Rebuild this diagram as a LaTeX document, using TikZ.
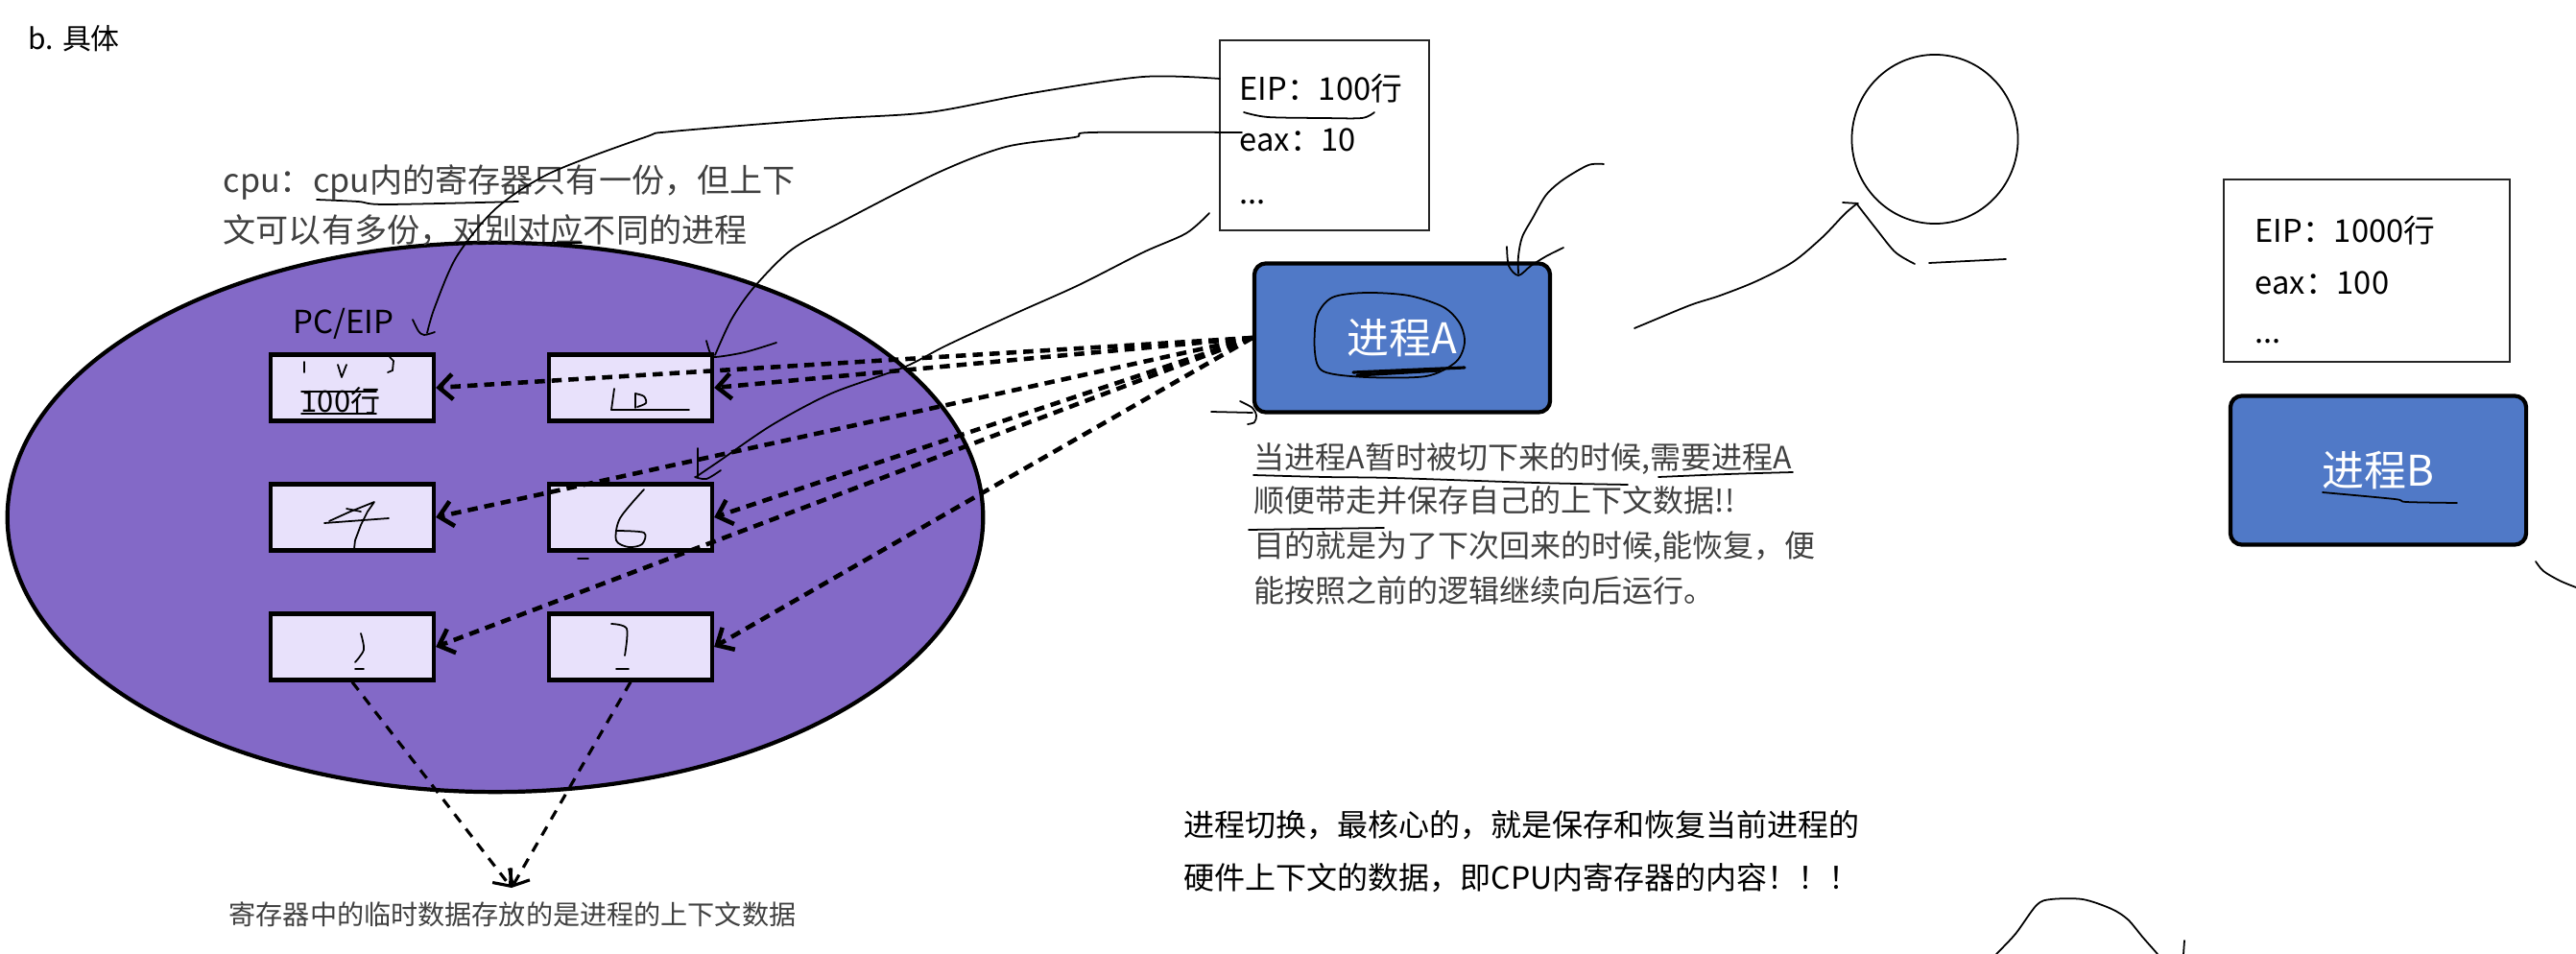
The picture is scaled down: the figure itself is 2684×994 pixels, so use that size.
\documentclass[tikz,border=0pt]{standalone}
\usepackage{fontspec}
\setmainfont{Noto Sans CJK SC}
\usetikzlibrary{arrows.meta,calc,shapes.geometric}
\definecolor{cpufill}{RGB}{131,105,199}
\definecolor{regfill}{RGB}{232,225,251}
\definecolor{procfill}{RGB}{80,121,199}
\definecolor{txtgray}{RGB}{64,64,64}
\newcommand\myfs[1]{\fontsize{#1pt}{#1pt}\selectfont}
\begin{document}
\begin{tikzpicture}[x=0.01cm,y=-0.01cm,
  hand/.style={line width=0.5pt, black, line cap=round, line join=round},
  reg/.style={draw, line width=1.2pt, fill=regfill, minimum width=1.70cm, minimum height=0.69cm, inner sep=0},
  proc/.style={draw, line width=1.2pt, fill=procfill, rounded corners=0.12cm, minimum width=3.08cm, minimum height=1.55cm, text=white, font=\myfs{12.5}},
  ctx/.style={draw=black!85, line width=0.6pt, inner sep=0},
  lbl/.style={inner sep=0, anchor=west},
  fan/.style={dash pattern=on 3pt off 2pt, line width=1.3pt, -{Straight Barb[length=4pt,width=7.5pt,line width=1.3pt]}},
  fanthin/.style={dash pattern=on 3pt off 2.5pt, line width=0.9pt, -{Straight Barb[length=4pt,width=7pt,line width=0.9pt]}}]
\useasboundingbox (0,0) rectangle (2684,994);

% CPU ellipse and registers
\node[shape=ellipse, draw, line width=1.2pt, fill=cpufill, minimum width=10.16cm, minimum height=5.72cm, inner sep=0] (cpu) at (516,539) {};
\node[reg] (r1) at (367,404) {};
\node[reg] (r2) at (657,404) {};
\node[reg] (r3) at (367,539) {};
\node[reg] (r4) at (657,539) {};
\node[reg] (r5) at (367,674) {};
\node[reg] (r6) at (657,674) {};

% processes
\node[proc] (pa) at (1461,352) {进程A};
\node[proc] (pb) at (2478,490) {进程B};

% context boxes
\node[ctx, minimum width=2.18cm, minimum height=1.98cm] (ea) at (1380,141) {};
\node[ctx, minimum width=2.97cm, minimum height=1.89cm] (eb) at (2466,282) {};
\node[lbl, font=\myfs{9.3}] (ea1) at (1291,92) {EIP：100行};
\node[lbl, font=\myfs{9.3}] (ea2) at (1291,146) {eax：10};
\node[inner sep=0, anchor=base west, font=\myfs{9.3}] (ea3) at (1291,213) {...};
\node[lbl, font=\myfs{9.3}] (eb1) at (2349,240) {EIP：1000行};
\node[lbl, font=\myfs{9.3}] (eb2) at (2349,295) {eax：100};
\node[inner sep=0, anchor=base west, font=\myfs{9.3}] (eb3) at (2349,357) {...};

% texts
\node[lbl, font=\myfs{8.5}] (title) at (29,40) {b. 具体};
\node[lbl, font=\myfs{9.7}, text=txtgray] (cpu1) at (232,190) {cpu：cpu内的寄存器只有一份，但上下};
\node[lbl, font=\myfs{9.7}, text=txtgray] (cpu2) at (232,240) {文可以有多份，对别对应不同的进程};
\node[inner sep=0, font=\myfs{9.4}] (pc) at (358,337) {PC/EIP};
\node[inner sep=0, font=\myfs{8.8}] (v100) at (355,418) {100行};
\node[lbl, font=\myfs{9.1}, text=txtgray] (na1) at (1306,478) {当进程A暂时被切下来的时候,需要进程A};
\node[lbl, font=\myfs{9.1}, text=txtgray] (na2) at (1306,521) {顺便带走并保存自己的上下文数据!!};
\node[lbl, font=\myfs{9.1}, text=txtgray] (na3) at (1306,570) {目的就是为了下次回来的时候,能恢复，便};
\node[lbl, font=\myfs{9.1}, text=txtgray] (na4) at (1306,615) {能按照之前的逻辑继续向后运行。};
\node[inner sep=0, font=\myfs{8}, text=txtgray] (note) at (534,953) {寄存器中的临时数据存放的是进程的上下文数据};
\node[lbl, font=\myfs{9.1}] (sum1) at (1233,860) {进程切换，最核心的，就是保存和恢复当前进程的};
\node[lbl, font=\myfs{9.1}] (sum2) at (1233,915) {硬件上下文的数据，即CPU内寄存器的内容！！！};

% dashed fan from process A to the registers
\foreach \r in {r1,r2,r3,r4,r5,r6} \draw[fan] (pa.west) -- (\r.east);
\coordinate (conv) at (533,925);
\draw[fanthin] (r5.south) -- (conv);
\draw[fanthin] (r6.south) -- (conv);

% hand-drawn annotations
\draw[hand] plot[smooth] coordinates {(1271,82) (1191,80) (1075,97) (968,117) (861,124) (700,137) (672,143) (574,180) (517,217) (476,267) (453,320) (445,347)};
\draw[hand] plot[smooth] coordinates {(430,333) (436,345) (442,349) (453,346)};
\draw[hand] plot[smooth] coordinates {(1294,138) (1137,138) (1120,143) (1048,153) (977,180) (879,230) (825,260) (785,300) (762,333) (745,370)};
\draw[hand] plot[smooth] coordinates {(736,355) (740,368) (745,372) (776,367) (809,357)};
\draw[hand] plot[smooth] coordinates {(1260,222) (1236,243) (1191,263) (1124,297) (1057,327) (986,360) (941,383) (866,410) (804,443) (750,480) (725,497)};
\draw[hand] (727,467) -- (727,497);
\draw[hand] plot[smooth] coordinates {(724,497) (736,499) (751,490)};
\draw[hand] plot[smooth] coordinates {(1671,171) (1655,172) (1629,187) (1611,203) (1597,227) (1586,247) (1582,267) (1582,285)};
\draw[hand] plot[smooth] coordinates {(1570,257) (1572,277) (1582,287) (1595,277) (1611,267) (1629,258)};
\draw[hand] plot[smooth] coordinates {(1703,342) (1715,337) (1761,318) (1792,308) (1830,293) (1868,273) (1899,247) (1922,223) (1935,212)};
\draw[hand] (1920,211) -- (1936,212);
\draw[hand] plot[smooth] coordinates {(1935,213) (1956,240) (1975,263) (1995,275)};
\draw[hand] (2010,274) -- (2090,270);
\draw[hand] (2016,145) ellipse [x radius=0.865cm, y radius=0.88cm];
\draw[hand] (1262,429) -- (1305,430);
\draw[hand] plot[smooth] coordinates {(1292,418) (1305,425) (1309,433) (1307,440) (1300,442)};
\draw[hand] plot[smooth cycle] coordinates {(1372,330) (1388,310) (1423,305) (1468,308) (1504,320) (1521,337) (1526,357) (1517,377) (1486,392) (1423,393) (1379,387) (1370,367)};
\draw[hand, line width=0.9pt] (1410,388) -- (1526,383);
\draw[hand, line width=0.9pt] (1414,391) -- (1500,386);
\draw[hand] plot[smooth] coordinates {(1296,117) (1321,122) (1379,123) (1419,123) (1432,117)};
\draw[hand] plot[smooth] coordinates {(330,208) (373,210) (402,213) (540,210)};
\draw[hand] (471,253) -- (606,253);
\draw[hand] plot[smooth] coordinates {(1306,495) (1380,497) (1451,498) (1600,503) (1696,505)};
\draw[hand] plot[smooth] coordinates {(1728,497) (1800,494) (1868,492)};
\draw[hand] (1301,552) -- (1442,550);
\draw[hand] plot[smooth] coordinates {(2420,513) (2495,520) (2507,523) (2560,524)};
% scribbles inside registers
\draw[hand] (317,377) -- (317,388);
\draw[hand] (352,380) -- (356,393) -- (361,380);
\draw[hand] (406,372) -- (410,376) -- (409,386) -- (404,388);
\draw[hand] (314,408) -- (392,408);
\draw[hand] (314,431) -- (392,431);
\draw[hand] (640,405) -- (637,427);
\draw[hand] (662,410) -- (662,425);
\draw[hand] plot[smooth] coordinates {(662,410) (671,413) (673,420) (664,424)};
\draw[hand] (637,427) -- (718,427);
\draw[hand] (338,545) -- (405,540);
\draw[hand] plot coordinates {(343,543) (365,533) (390,523) (383,533) (376,547) (370,563) (369,572)};
\draw[hand] (361,530) -- (376,533);
\draw[hand] plot[smooth] coordinates {(671,510) (646,540) (642,563) (655,570) (669,567) (671,555) (642,553)};
\draw[hand] (602,582) -- (613,582);
\draw[hand] plot[smooth] coordinates {(376,660) (379,677) (370,690)};
\draw[hand] (370,697) -- (379,697);
\draw[hand] plot[smooth] coordinates {(637,650) (653,655) (651,683)};
\draw[hand] (642,697) -- (655,697);
% stray strokes at the right and bottom
\draw[hand] plot[smooth] coordinates {(2080,994) (2100,973) (2122,943) (2137,937) (2170,937) (2200,947) (2217,958) (2233,977) (2248,994)};
\draw[hand] (2276,980) -- (2275,994);
\draw[hand] plot[smooth] coordinates {(2642,585) (2650,595) (2667,605) (2684,612)};
\end{tikzpicture}
\end{document}
